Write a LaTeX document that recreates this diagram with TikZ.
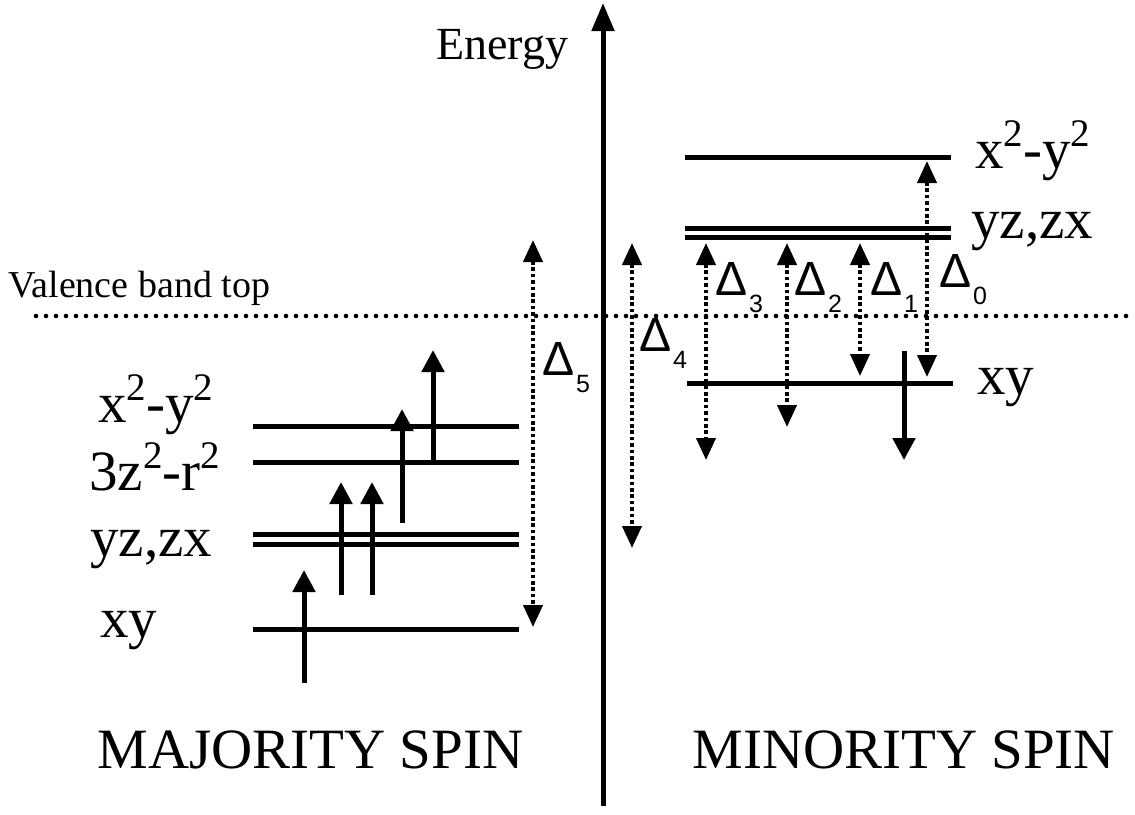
\documentclass[tikz,border=0pt]{standalone}
\usepackage{fontspec}
\setmainfont{Liberation Serif}
\newfontfamily\dsans{Liberation Sans}
\usetikzlibrary{arrows.meta}
\newcommand{\sqr}{\raisebox{0.38em}{\fontsize{19.5}{19.5}\selectfont 2}}
\newcommand{\dlab}[1]{{\dsans\fontsize{24}{24}\selectfont\char"0394\hspace{0.8pt}\raisebox{-8.5pt}{\fontsize{12.5}{13}\selectfont #1}}}
\begin{document}
\begin{tikzpicture}[x=0.5pt,y=-0.5pt,
  lvl/.style={line width=2.5pt},
  axisline/.style={line width=2.5pt,-{Triangle[length=14pt,width=11pt]}},
  spin/.style={line width=2.5pt,-{Triangle[length=11pt,width=11pt]}},
  gaparrow/.style={line width=2pt,dash pattern=on 1.8pt off 1.4pt,
     {Triangle[length=11pt,width=9.5pt]}-{Triangle[length=11pt,width=9.5pt]}},
  vbt/.style={line width=2.3pt,line cap=round,dash pattern=on 0pt off 5pt},
  lab/.style={inner sep=0,anchor=base west,font=\fontsize{28.5}{34}\selectfont},
  title/.style={inner sep=0,anchor=base west,font=\fontsize{28.5}{34}\selectfont},
  dl/.style={inner sep=0,anchor=base west}]
\useasboundingbox (0,0) rectangle (1135,814);

% energy axis
\coordinate (ax0) at (603,806);
\coordinate (ax1) at (603,3);
\draw[axisline] (ax0) -- (ax1);
\node[inner sep=0,anchor=base west,font=\fontsize{23}{27}\selectfont] (energy) at (436,59) {Energy};

% valence band top
\coordinate (v0) at (36,316);
\coordinate (v1) at (1135,316);
\draw[vbt] (v0) -- (v1);
\node[inner sep=0,anchor=base west,font=\fontsize{19}{23}\selectfont] (vbtlab) at (8,297) {Valence band top};

% majority levels
\coordinate (Lx2a) at (253,426); \coordinate (Lx2b) at (519,426);
\coordinate (Lz2a) at (253,462); \coordinate (Lz2b) at (519,462);
\coordinate (Lyza) at (253,534); \coordinate (Lyzb) at (519,534);
\coordinate (Lzxa) at (253,544); \coordinate (Lzxb) at (519,544);
\coordinate (Lxya) at (253,629); \coordinate (Lxyb) at (519,629);
\draw[lvl] (Lx2a) -- (Lx2b);
\draw[lvl] (Lz2a) -- (Lz2b);
\draw[lvl] (Lyza) -- (Lyzb);
\draw[lvl] (Lzxa) -- (Lzxb);
\draw[lvl] (Lxya) -- (Lxyb);

\node[lab] (lx2) at (98,422) {x\sqr-y\sqr};
\node[lab] (lz2) at (89,490) {3z\sqr-r\sqr};
\node[lab] (lyz) at (90,556) {yz,zx};
\node[lab] (lxy) at (100,637) {xy};

% majority spins
\coordinate (sA0) at (304,683); \coordinate (sA1) at (304,570);
\coordinate (sB0) at (341,595); \coordinate (sB1) at (341,482);
\coordinate (sC0) at (372,595); \coordinate (sC1) at (372,482);
\coordinate (sD0) at (402,523); \coordinate (sD1) at (402,409);
\coordinate (sE0) at (433,462); \coordinate (sE1) at (433,350);
\draw[spin] (sA0) -- (sA1);
\draw[spin] (sB0) -- (sB1);
\draw[spin] (sC0) -- (sC1);
\draw[spin] (sD0) -- (sD1);
\draw[spin] (sE0) -- (sE1);

% minority levels
\coordinate (Rx2a) at (685,157); \coordinate (Rx2b) at (951,157);
\coordinate (Ryza) at (685,228); \coordinate (Ryzb) at (951,228);
\coordinate (Rzxa) at (685,237); \coordinate (Rzxb) at (951,237);
\coordinate (Rxya) at (687,383); \coordinate (Rxyb) at (953,383);
\draw[lvl] (Rx2a) -- (Rx2b);
\draw[lvl] (Ryza) -- (Ryzb);
\draw[lvl] (Rzxa) -- (Rzxb);
\draw[lvl] (Rxya) -- (Rxyb);

\node[lab] (rx2) at (975,168) {x\sqr-y\sqr};
\node[lab] (ryz) at (971,238) {yz,zx};
\node[lab] (rxy) at (977,394) {xy};

% minority spin
\coordinate (sR0) at (904,351); \coordinate (sR1) at (904,460);
\draw[spin] (sR0) -- (sR1);

% gaps
\coordinate (d5a) at (533,240); \coordinate (d5b) at (533,627);
\coordinate (d4a) at (632,243); \coordinate (d4b) at (632,548);
\coordinate (d3a) at (706,243); \coordinate (d3b) at (706,460);
\coordinate (d2a) at (787,243); \coordinate (d2b) at (787,427);
\coordinate (d1a) at (860,243); \coordinate (d1b) at (860,376);
\coordinate (d0a) at (927,161); \coordinate (d0b) at (927,377);
\draw[gaparrow] (d5a) -- (d5b);
\draw[gaparrow] (d4a) -- (d4b);
\draw[gaparrow] (d3a) -- (d3b);
\draw[gaparrow] (d2a) -- (d2b);
\draw[gaparrow] (d1a) -- (d1b);
\draw[gaparrow] (d0a) -- (d0b);

\node[dl] (D5) at (542,375) {\dlab{5}};
\node[dl] (D4) at (639,351) {\dlab{4}};
\node[dl] (D3) at (715,295) {\dlab{3}};
\node[dl] (D2) at (794,295) {\dlab{2}};
\node[dl] (D1) at (870,295) {\dlab{1}};
\node[dl] (D0) at (939,287) {\dlab{0}};

% titles
\node[title] (maj) at (97,768) {MAJORITY SPIN};
\node[title] (min) at (692,768) {MINORITY SPIN};
\end{tikzpicture}
\end{document}
